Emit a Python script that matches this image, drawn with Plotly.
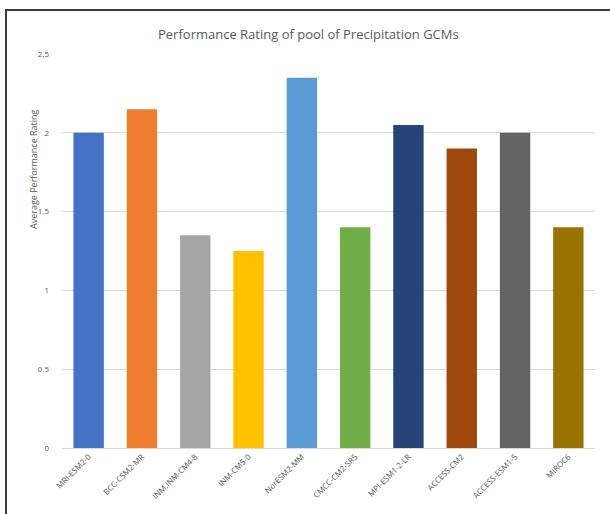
import plotly.graph_objects as go

# Average performance rating for each precipitation GCM
models = ["MRI-ESM2-0", "BCC-CSM2-MR", "INM.INM-CM4-8", "INM-CM5-0", "NorESM2-MM",
          "CMCC-CM2-SR5", "MPI-ESM1-2-LR", "ACCESS-CM2", "ACCESS-ESM1-5", "MIROC6"]
ratings = [2.0, 2.15, 1.35, 1.25, 2.35, 1.4, 2.05, 1.9, 2.0, 1.4]
bar_colors = ["#4472C4", "#ED7D31", "#A5A5A5", "#FFC000", "#5B9BD5",
              "#70AD47", "#264478", "#9E480E", "#636363", "#997300"]
y_ticks = [0, 0.5, 1, 1.5, 2, 2.5]
y_tick_text = ["0", "0.5", "1", "1.5", "2", "2.5"]

W, H = 610, 514
L, R, T, B = 62, 15, 54, 66
plot_w = W - L - R
plot_h = H - T - B

def px_x(px):
    return (px - L) / plot_w

def px_y(py):
    return (H - B - py) / plot_h

FONT = "Open Sans"
GREY = "#595959"

fig = go.Figure(go.Bar(
    x=models,
    y=ratings,
    marker=dict(color=bar_colors, line=dict(width=0)),
    width=0.57,
))

fig.update_layout(
    width=W, height=H,
    margin=dict(l=L, r=R, t=T, b=B),
    paper_bgcolor="white",
    plot_bgcolor="white",
    showlegend=False,
    font=dict(family=FONT, color=GREY),
    xaxis=dict(
        tickangle=-45,
        tickfont=dict(size=8, color=GREY, family=FONT),
        showgrid=False,
        showline=True,
        linecolor="#d9d9d9",
        linewidth=1,
        ticks="",
        range=[-0.5, len(models) - 0.5],
    ),
    yaxis=dict(
        range=[0, 2.5],
        tickvals=y_ticks,
        ticktext=y_tick_text,
        tickfont=dict(size=8, color=GREY, family=FONT),
        showgrid=True,
        gridcolor="#d9d9d9",
        gridwidth=1,
        zeroline=False,
        showline=False,
        ticks="",
        ticklabelstandoff=12,
    ),
    annotations=[
        dict(text="Performance Rating of pool of Precipitation GCMs",
             xref="paper", yref="paper", x=px_x(308), y=px_y(34),
             xanchor="center", yanchor="middle", showarrow=False,
             font=dict(size=13, color=GREY, family=FONT)),
        dict(text="Average Performance Rating",
             xref="paper", yref="paper", x=px_x(33), y=px_y(169),
             xanchor="center", yanchor="middle", showarrow=False, textangle=-90,
             font=dict(size=9, color=GREY, family=FONT)),
    ],
    shapes=[
        dict(type="line", xref="paper", yref="paper",
             x0=px_x(5), x1=px_x(W), y0=px_y(10), y1=px_y(10),
             line=dict(color="#3a3a3a", width=2)),
        dict(type="line", xref="paper", yref="paper",
             x0=px_x(6), x1=px_x(6), y0=px_y(10), y1=px_y(H),
             line=dict(color="#3a3a3a", width=2)),
    ],
)

fig.write_html("out.html")
